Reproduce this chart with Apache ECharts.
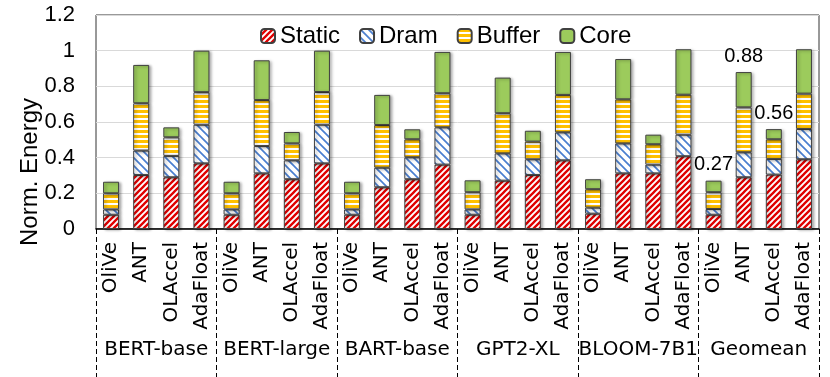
<!DOCTYPE html>
<html>
<head>
<meta charset="utf-8">
<script src="https://cdn.jsdelivr.net/npm/echarts@6/dist/echarts.min.js"></script>
<style>
  html, body { margin: 0; padding: 0; background: #fff; }
  #chart { width: 830px; height: 377px; }
</style>
</head>
<body>
<div id="chart"></div>
<script>
// groups and accelerators
const groups = ['BERT-base', 'BERT-large', 'BART-base', 'GPT2-XL', 'BLOOM-7B1', 'Geomean']
const accels = ['OliVe', 'ANT', 'OLAccel', 'AdaFloat']

// energy parts per bar (group order, then accel order)
const staticVals = [
  0.08, 0.303, 0.29, 0.368,
  0.08, 0.312, 0.279, 0.368,
  0.08, 0.234, 0.279, 0.361,
  0.08, 0.271, 0.303, 0.385,
  0.086, 0.312, 0.312, 0.408,
  0.08, 0.29, 0.305, 0.391
]
const dramVals = [
  0.03, 0.137, 0.12, 0.217,
  0.03, 0.153, 0.106, 0.217,
  0.03, 0.11, 0.123, 0.209,
  0.03, 0.153, 0.088, 0.157,
  0.034, 0.168, 0.049, 0.121,
  0.032, 0.14, 0.088, 0.17
]
const bufferVals = [
  0.09, 0.265, 0.104, 0.182,
  0.09, 0.258, 0.095, 0.183,
  0.09, 0.239, 0.101, 0.191,
  0.096, 0.225, 0.099, 0.21,
  0.103, 0.247, 0.114, 0.224,
  0.094, 0.252, 0.11, 0.198
]
const coreVals = [
  0.065, 0.215, 0.056, 0.233,
  0.065, 0.223, 0.064, 0.232,
  0.065, 0.169, 0.056, 0.232,
  0.067, 0.2, 0.061, 0.241,
  0.056, 0.226, 0.054, 0.255,
  0.065, 0.198, 0.057, 0.249
]
// totals written above the Geomean bars
const geomeanLabels = ['0.27', '0.88', '0.56']

const categories = []
groups.forEach(() => accels.forEach(a => categories.push(a)))

// hatch fills
function makePattern(size, draw) {
  const c = document.createElement('canvas')
  c.width = size
  c.height = size
  const ctx = c.getContext('2d')
  ctx.fillStyle = '#fff'
  ctx.fillRect(0, 0, size, size)
  draw(ctx, size)
  return { image: c, repeat: 'repeat' }
}

function diag(color, width, forward) {
  return (ctx, s) => {
    ctx.strokeStyle = color
    ctx.lineWidth = width
    ctx.beginPath()
    for (let k = -1; k <= 1; k++) {
      if (forward) {
        ctx.moveTo(k * s - 1, s + 1)
        ctx.lineTo(k * s + s + 1, -1)
      } else {
        ctx.moveTo(k * s - 1, -1)
        ctx.lineTo(k * s + s + 1, s + 1)
      }
    }
    ctx.stroke()
  }
}

const staticFill = makePattern(6, diag('#e00000', 2.3, true))
const dramFill = makePattern(8, diag('#4a7fd0', 1.7, false))
const bufferFill = makePattern(5, (ctx, s) => {
  ctx.fillStyle = '#ffc000'
  ctx.fillRect(0, 0, s, 3)
})
const coreFill = '#9ccb5c'

const baseStyle = {
  borderColor: '#404040',
  borderWidth: 1,
  shadowColor: 'rgba(0,0,0,0.35)',
  shadowBlur: 3,
  shadowOffsetX: 2,
  shadowOffsetY: 1
}

function barSeries(name, values, fill) {
  return {
    name,
    type: 'bar',
    stack: 'energy',
    barWidth: 16,
    xAxisIndex: 0,
    itemStyle: Object.assign({ color: fill }, baseStyle),
    data: values
  }
}

const coreData = coreVals.map((v, i) => {
  const g = i - 20
  if (g >= 0 && g < geomeanLabels.length) {
    return {
      value: v,
      label: {
        show: true,
        position: 'top',
        distance: 6,
        formatter: geomeanLabels[g],
        fontFamily: 'Liberation Sans',
        fontSize: 20,
        color: '#000'
      }
    }
  }
  return v
})

const chart = echarts.init(document.getElementById('chart'))

chart.setOption({
  animation: false,
  grid: {
    left: 96,
    right: 11,
    top: 15,
    bottom: 148,
    show: true,
    borderColor: '#333',
    borderWidth: 1
  },
  legend: {
    left: 255,
    top: 19,
    itemWidth: 14,
    itemHeight: 14,
    itemGap: 19,
    textStyle: { fontFamily: 'Liberation Sans', fontSize: 24, color: '#000' },
    data: ['Static', 'Dram', 'Buffer', 'Core']
  },
  graphic: [{
    type: 'text',
    x: 30,
    y: 172,
    rotation: Math.PI / 2,
    style: {
      text: 'Norm. Energy',
      fontFamily: 'Liberation Sans',
      fontSize: 24,
      fill: '#000',
      textAlign: 'center',
      textVerticalAlign: 'middle'
    }
  }],
  xAxis: [
    {
      type: 'category',
      data: categories,
      axisLine: { lineStyle: { color: '#000', width: 1.5 } },
      axisTick: { show: false },
      axisLabel: {
        interval: 0,
        rotate: 90,
        margin: 13,
        fontFamily: 'DejaVu Sans',
        fontSize: 20,
        color: '#000'
      }
    },
    {
      type: 'category',
      data: groups,
      position: 'bottom',
      axisLine: { show: false },
      axisTick: {
        show: true,
        interval: 0,
        length: 150,
        lineStyle: { color: '#000', type: [5, 3], width: 1 }
      },
      axisLabel: {
        interval: 0,
        margin: 111,
        fontFamily: 'DejaVu Sans',
        fontSize: 20,
        color: '#000'
      }
    }
  ],
  yAxis: {
    type: 'value',
    min: 0,
    max: 1.2,
    interval: 0.2,
    axisLine: { show: false },
    axisTick: { show: false },
    splitLine: { lineStyle: { color: '#d9d9d9' } },
    axisLabel: {
      margin: 21,
      fontFamily: 'Liberation Sans',
      fontSize: 22,
      color: '#000'
    }
  },
  series: [
    barSeries('Static', staticVals, staticFill),
    barSeries('Dram', dramVals, dramFill),
    barSeries('Buffer', bufferVals, bufferFill),
    barSeries('Core', coreData, coreFill)
  ]
})
</script>
</body>
</html>
